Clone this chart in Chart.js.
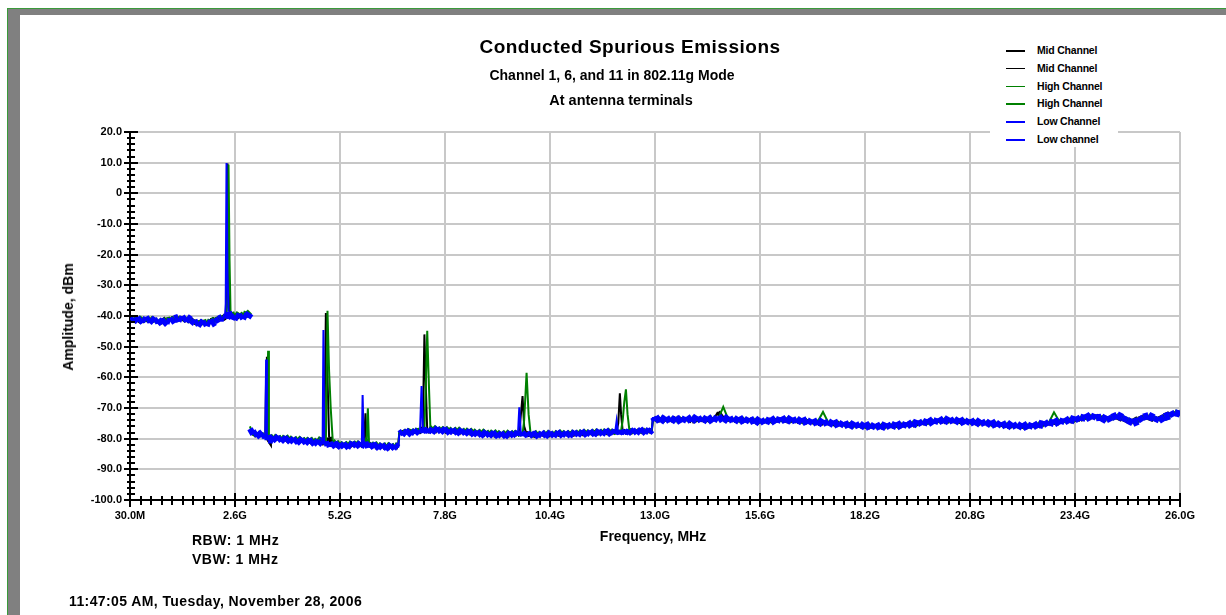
<!DOCTYPE html>
<html>
<head>
<meta charset="utf-8">
<title>Conducted Spurious Emissions</title>
<script src="https://cdn.jsdelivr.net/npm/chart.js@4"></script>
<style>
  body { margin: 0; background: #fff; }
  #wrap { position: relative; width: 1226px; height: 615px; overflow: hidden;
          font-family: "Liberation Sans", Arial, sans-serif; font-weight: bold; color: #000; }
  #c { position: absolute; left: 0; top: 0; z-index: 1; }
  .frame { position: absolute; }
  .txt { position: absolute; white-space: nowrap; z-index: 3; }
  .ctr { transform: translate(-50%, -50%); }
  #legend { position: absolute; left: 990px; top: 30px; width: 128px; height: 117px; background: #fff; z-index: 2; }
  .lg { position: absolute; left: 16px; width: 110px; height: 18px; font-size: 10.5px; letter-spacing: -0.2px; white-space: nowrap; }
  .lg i { position: absolute; left: 0; top: 8px; width: 19px; height: 1.5px; }
  .lg span { position: absolute; left: 31px; top: 2px; white-space: nowrap; }
</style>
</head>
<body>
<div id="wrap">
  <div class="frame" style="left:7px;top:8px;width:1219px;height:1px;background:#3a9a3a"></div>
  <div class="frame" style="left:7px;top:8px;width:1px;height:607px;background:#3a9a3a"></div>
  <div class="frame" style="left:8px;top:9px;width:1218px;height:6px;background:#808080"></div>
  <div class="frame" style="left:8px;top:9px;width:12px;height:606px;background:#808080"></div>

  <canvas id="c" width="1226" height="615"></canvas>

  <div class="txt ctr" style="left:630px;top:47px;font-size:19px;letter-spacing:0.5px">Conducted Spurious Emissions</div>
  <div class="txt ctr" style="left:612px;top:75px;font-size:14px">Channel 1, 6, and 11 in 802.11g Mode</div>
  <div class="txt ctr" style="left:621px;top:100px;font-size:14.5px">At antenna terminals</div>

  <div id="legend"></div>

  <div class="txt ctr" style="left:68px;top:317px;font-size:14px;transform:translate(-50%,-50%) rotate(-90deg)">Amplitude, dBm</div>
  <div class="txt ctr" style="left:653px;top:536px;font-size:14px">Frequency, MHz</div>
  <div class="txt" style="left:192px;top:532px;font-size:14px;letter-spacing:0.5px">RBW: 1 MHz</div>
  <div class="txt" style="left:192px;top:551px;font-size:14px;letter-spacing:0.5px">VBW: 1 MHz</div>
  <div class="txt" style="left:69px;top:593px;font-size:14px;letter-spacing:0.4px">11:47:05 AM, Tuesday, November 28, 2006</div>
</div>

<script>
// frequency in GHz, amplitude in dBm
// sweep 1: 30 MHz - 2.97 GHz
const freqA = [0.03,0.1,0.2,0.3,0.4,0.5,0.6,0.7,0.8,0.9,1.0,1.1,1.2,1.3,1.4,1.5,1.6,1.7,1.8,1.9,2.0,2.1,2.2,2.28,
  2.35,2.37,2.39,2.415,2.44,2.465,2.49,2.52,2.6,2.7,2.8,2.9,2.97];
const midA = [-41.2,-41.5,-41.0,-41.9,-41.1,-41.6,-41.0,-42.2,-41.8,-41.0,-41.5,-40.6,-41.2,-40.7,-41.6,-40.9,-42.0,-42.6,-41.8,-42.5,-41.7,-41.3,-40.6,-40.9,
  -40.3,-39.8,-35.0,9.7,-30.0,-39.2,-40.5,-40.0,-40.7,-39.6,-40.2,-39.7,-39.4];
const highA = [-41.0,-41.3,-40.6,-41.5,-41.2,-40.9,-41.4,-41.6,-42.0,-41.1,-40.8,-41.2,-40.4,-41.0,-40.8,-41.6,-41.8,-42.3,-42.0,-41.5,-42.2,-41.0,-40.8,-40.2,
  -40.6,-40.2,-39.5,-34.0,9.4,-22.0,-39.0,-39.6,-39.2,-40.1,-39.0,-39.5,-38.6];
const lowA = [-41.6,-40.7,-41.8,-40.9,-41.5,-40.8,-41.9,-41.2,-42.6,-41.4,-41.9,-41.0,-40.6,-41.3,-40.5,-41.4,-42.5,-41.9,-42.8,-42.1,-42.6,-41.8,-41.0,-40.4,
  -40.8,-36.0,9.9,-27.0,-38.5,-40.9,-40.1,-40.8,-39.9,-40.6,-39.8,-40.4,-39.0];

// sweep 2: 2.97 GHz - 26 GHz
const freqB = [
  2.97,3.05,3.15,3.25,3.33,3.35,3.37,3.39,3.42,3.44,3.47,3.55,3.65,3.75,3.85,3.95,4.05,4.15,4.25,4.35,4.45,4.55,4.65,4.73,
  4.77,4.79,4.81,4.85,4.89,4.93,4.97,5.02,5.1,5.2,5.3,5.4,5.5,5.6,5.7,
  5.74,5.76,5.79,5.83,5.86,5.89,5.92,5.97,6.05,6.15,6.25,6.35,6.45,6.55,6.64,6.67,6.75,6.85,6.95,7.05,7.14,
  7.18,7.22,7.25,7.29,7.33,7.36,7.4,7.44,7.5,7.6,7.7,7.8,7.9,8.0,8.1,8.2,8.3,8.4,8.5,8.6,8.7,8.8,8.9,9.0,9.1,9.2,9.3,9.4,9.5,9.58,
  9.61,9.64,9.68,9.72,9.76,9.82,9.87,9.92,10.0,10.1,10.2,10.3,10.4,10.5,10.6,10.7,10.8,10.9,11.0,11.1,11.2,11.3,11.4,11.5,11.6,11.7,11.8,11.9,11.98,
  12.02,12.05,12.09,12.13,12.16,12.2,12.24,12.28,12.32,12.37,12.45,12.55,12.65,12.75,12.85,12.92,12.95,
  13.0,13.13,13.26,13.39,13.52,13.65,13.78,13.91,14.04,14.17,
  14.3,14.43,14.56,14.69,14.82,14.95,15.08,15.21,15.34,15.47,
  15.6,15.73,15.86,15.99,16.12,16.25,16.38,16.51,16.64,16.77,
  16.9,17.03,17.16,17.29,17.42,17.55,17.68,17.81,17.94,18.07,
  18.2,18.33,18.46,18.59,18.72,18.85,18.98,19.11,19.24,19.37,
  19.5,19.63,19.76,19.89,20.02,20.15,20.28,20.41,20.54,20.67,
  20.8,20.93,21.06,21.19,21.32,21.45,21.58,21.71,21.84,21.97,
  22.1,22.23,22.36,22.49,22.62,22.75,22.88,23.01,23.14,23.27,
  23.4,23.53,23.66,23.79,23.92,24.05,24.18,24.31,24.44,24.57,
  24.7,24.83,24.96,25.09,25.22,25.35,25.48,25.61,25.74,25.87,
  26.0];
const midB = [
  -77.4,-78.1,-79.0,-78.3,-79.5,-78.9,-60.0,-53.3,-79.6,-80.0,-79.4,-80.2,-79.5,-80.5,-79.7,-80.8,-80.0,-81.0,-80.2,-81.3,-80.5,-81.4,-80.7,-81.5,
  -81.2,-80.6,-81.4,-39.0,-60.0,-79.5,-81.8,-82.3,-81.6,-82.6,-81.8,-82.5,-81.6,-82.4,-81.5,
  -82.4,-81.6,-82.5,-71.7,-82.0,-81.3,-82.4,-82.0,-82.6,-82.3,-82.8,-82.4,-83.0,-82.5,-82.7,-78.0,-78.1,-77.5,-78.2,-77.6,-77.8,
  -77.5,-77.0,-76.8,-46.0,-65.0,-77.5,-77.3,-77.4,-77.2,-77.3,-77.1,-77.5,-77.4,-77.7,-77.6,-77.9,-77.8,-78.1,-78.0,-78.4,-78.3,-78.6,-78.5,-78.7,-78.6,-78.8,-78.7,-78.7,-78.5,-78.5,
  -78.3,-78.0,-72.0,-66.1,-76.0,-78.6,-78.5,-78.8,-78.7,-78.9,-78.5,-78.7,-78.6,-78.7,-78.4,-78.5,-78.5,-78.6,-78.3,-78.4,-78.2,-78.3,-78.1,-78.2,-78.0,-78.1,-77.9,-78.0,-77.8,
  -78.0,-77.6,-75.0,-65.2,-72.0,-77.5,-77.9,-77.7,-77.8,-77.6,-77.7,-77.5,-77.6,-77.4,-77.5,-77.6,-73.6,
  -73.6,-74.0,-73.5,-74.1,-73.4,-74.0,-73.5,-74.2,-73.6,-74.0,
  -73.6,-74.0,-71.3,-73.8,-73.5,-74.1,-73.7,-74.2,-73.8,-74.4,
  -74.1,-74.5,-73.9,-74.3,-73.7,-74.1,-73.9,-74.4,-74.1,-74.6,
  -74.5,-74.9,-74.7,-75.1,-74.9,-75.3,-75.2,-75.6,-75.5,-75.9,
  -75.7,-76.1,-75.8,-76.2,-75.7,-76.0,-75.5,-75.8,-75.2,-75.5,
  -74.8,-75.0,-74.4,-74.6,-74.0,-74.3,-74.0,-74.4,-74.2,-74.6,
  -74.4,-74.8,-74.7,-75.1,-75.0,-75.4,-75.3,-75.8,-75.6,-76.0,
  -75.8,-76.1,-75.6,-75.8,-75.0,-75.2,-74.5,-74.7,-74.0,-74.2,
  -73.6,-73.8,-72.9,-73.1,-72.6,-73.4,-73.5,-73.0,-72.8,-73.6,
  -74.4,-74.5,-73.5,-72.8,-73.0,-73.7,-73.5,-72.7,-72.0,-71.9,
  -71.6];
const highB = [
  -76.0,-78.9,-78.2,-79.0,-78.5,-79.3,-79.0,-70.0,-51.3,-79.4,-79.8,-79.1,-80.0,-79.3,-80.3,-79.4,-80.6,-79.7,-80.8,-79.9,-81.0,-80.1,-81.2,-79.6,
  -81.0,-80.8,-81.6,-81.2,-38.3,-58.0,-70.0,-80.6,-82.0,-81.2,-82.2,-81.4,-82.0,-81.0,-82.2,
  -82.0,-81.5,-82.3,-81.4,-80.0,-70.1,-82.0,-81.4,-82.5,-81.6,-82.6,-81.8,-82.7,-81.9,-82.4,-77.6,-78.3,-77.3,-77.9,-77.1,-77.5,
  -77.2,-77.4,-77.0,-76.9,-60.0,-44.8,-62.0,-77.0,-76.2,-77.4,-76.4,-77.6,-76.5,-77.7,-76.7,-77.9,-76.9,-78.1,-77.1,-78.3,-77.3,-78.5,-77.5,-78.7,-77.6,-78.8,-77.7,-78.8,-77.6,-78.6,
  -78.4,-78.7,-78.2,-78.6,-74.0,-58.5,-72.0,-78.5,-78.9,-77.9,-78.8,-77.8,-78.9,-77.8,-78.7,-77.6,-78.8,-77.7,-78.6,-77.5,-78.5,-77.4,-78.4,-77.3,-78.3,-77.2,-78.2,-77.1,-78.0,
  -77.8,-78.1,-77.6,-78.0,-77.5,-74.0,-68.0,-63.9,-72.0,-77.8,-77.4,-77.8,-77.3,-77.7,-77.2,-77.4,-73.2,
  -73.9,-73.4,-74.0,-73.5,-74.1,-73.6,-73.9,-73.3,-73.8,-73.5,
  -74.0,-73.4,-73.7,-69.6,-73.9,-73.6,-74.1,-73.7,-74.2,-73.9,
  -74.6,-74.1,-74.3,-73.8,-73.9,-73.6,-74.1,-73.9,-74.4,-74.2,
  -74.7,-74.4,-71.3,-74.7,-75.2,-75.0,-75.5,-75.3,-75.8,-75.5,
  -76.0,-75.7,-76.1,-75.8,-76.0,-75.6,-75.8,-75.4,-75.6,-75.0,
  -75.1,-74.6,-74.7,-74.2,-74.3,-73.8,-74.2,-73.9,-74.5,-74.2,
  -74.7,-74.4,-75.0,-74.7,-75.3,-75.0,-75.6,-75.3,-75.9,-75.6,
  -76.1,-75.7,-75.9,-75.4,-75.3,-74.8,-71.4,-74.3,-74.3,-73.8,
  -73.8,-73.3,-73.1,-72.7,-72.9,-73.3,-73.7,-73.4,-72.6,-72.9,
  -73.7,-74.6,-73.9,-73.3,-72.8,-73.0,-73.8,-73.3,-72.7,-71.2,
  -71.9];
const lowB = [
  -76.8,-78.6,-77.9,-79.4,-78.7,-79.8,-54.2,-79.0,-80.3,-79.2,-80.4,-79.3,-80.6,-79.6,-80.9,-79.8,-81.2,-80.1,-81.4,-80.3,-81.6,-80.6,-81.9,-80.8,
  -80.5,-44.6,-81.6,-81.0,-82.3,-81.2,-82.6,-81.4,-82.8,-81.5,-82.9,-81.7,-82.5,-81.3,-82.7,
  -81.8,-65.8,-82.0,-81.0,-82.6,-81.5,-82.9,-81.6,-83.0,-81.9,-83.2,-82.0,-83.3,-82.1,-83.0,-78.4,-77.6,-78.7,-77.4,-78.3,-77.2,
  -77.9,-62.8,-76.5,-78.0,-77.0,-78.1,-76.8,-77.9,-76.6,-77.8,-76.7,-78.0,-77.0,-78.2,-77.1,-78.4,-77.3,-78.6,-77.6,-78.9,-77.8,-79.1,-78.0,-79.2,-78.1,-79.3,-78.2,-79.2,-78.0,-79.0,
  -77.6,-69.8,-78.9,-77.8,-79.0,-78.0,-79.2,-78.1,-79.3,-78.2,-79.1,-78.0,-79.2,-78.1,-79.0,-77.9,-79.1,-78.0,-78.9,-77.8,-78.8,-77.7,-78.7,-77.6,-78.6,-77.5,-78.5,-77.4,-78.3,
  -77.2,-74.2,-78.4,-77.3,-78.5,-77.4,-78.4,-77.3,-78.3,-77.2,-78.2,-77.1,-78.1,-77.0,-78.0,-77.1,-73.0,
  -74.2,-73.1,-74.3,-73.2,-74.4,-73.3,-74.2,-73.0,-74.1,-73.2,
  -74.3,-73.1,-74.0,-72.9,-74.2,-73.3,-74.4,-73.4,-74.5,-73.6,
  -74.9,-73.8,-74.6,-73.5,-74.2,-73.3,-74.4,-73.6,-74.7,-73.9,
  -75.0,-74.1,-75.2,-74.4,-75.5,-74.7,-75.8,-75.0,-76.1,-75.2,
  -76.3,-75.4,-76.4,-75.5,-76.3,-75.3,-76.1,-75.1,-75.9,-74.7,
  -75.4,-74.3,-75.0,-73.9,-74.6,-73.5,-74.5,-73.6,-74.8,-73.9,
  -75.0,-74.1,-75.3,-74.4,-75.6,-74.7,-75.9,-75.0,-76.2,-75.3,
  -76.4,-75.4,-76.2,-75.1,-75.6,-74.5,-75.1,-74.0,-74.6,-73.5,
  -74.1,-73.0,-73.4,-72.4,-73.2,-73.0,-74.0,-73.1,-72.3,-73.2,
  -74.0,-74.9,-74.2,-73.0,-72.5,-73.3,-74.1,-73.0,-72.4,-71.5,
  -72.0];

const series = [
  {label: 'Mid Channel', color: '#000000', freq: freqA, dbm: midA, order: 3, noise: 5},
  {label: 'Mid Channel', color: '#000000', freq: freqB, dbm: midB, order: 3, noise: 5},
  {label: 'High Channel', color: '#008000', freq: freqA, dbm: highA, order: 2, noise: 5},
  {label: 'High Channel', color: '#008000', freq: freqB, dbm: highB, order: 2, noise: 5},
  {label: 'Low Channel', color: '#0000ff', freq: freqA, dbm: lowA, order: 1, noise: 7},
  {label: 'Low channel', color: '#0000ff', freq: freqB, dbm: lowB, order: 1, noise: 7}
];

// legend
const legend = document.getElementById('legend');
series.forEach((s, i) => {
  const row = document.createElement('div');
  row.className = 'lg';
  row.style.top = (12 + i * 17.8) + 'px';
  row.innerHTML = '<i style="background:' + s.color + '"></i><span>' + s.label + '</span>';
  legend.appendChild(row);
});

const isMajorX = v => Math.abs(v / 2.6 - Math.round(v / 2.6)) < 1e-6;
const isMajorY = v => Math.abs(v / 10 - Math.round(v / 10)) < 1e-6;
const tickFont = {family: 'Liberation Sans', size: 11, weight: 'bold'};

// tick marks crossing the axis lines
const crossTicks = {
  id: 'crossTicks',
  afterDraw(chart) {
    const {ctx, chartArea} = chart;
    const x = chart.scales.x, y = chart.scales.y;
    ctx.save();
    ctx.strokeStyle = '#000';
    ctx.lineWidth = 2;
    ctx.beginPath();
    x.ticks.forEach(t => {
      const px = Math.round(x.getPixelForValue(t.value));
      const big = isMajorX(t.value);
      ctx.moveTo(px, chartArea.bottom - (big ? 7 : 4));
      ctx.lineTo(px, chartArea.bottom + (big ? 7 : 5));
    });
    y.ticks.forEach(t => {
      const py = Math.round(y.getPixelForValue(t.value));
      const big = isMajorY(t.value);
      ctx.moveTo(chartArea.left - (big ? 6 : 3), py);
      ctx.lineTo(chartArea.left + (big ? 8 : 5), py);
    });
    ctx.stroke();
    ctx.restore();
  }
};

new Chart(document.getElementById('c'), {
  type: 'line',
  data: {
    datasets: series.map(s => ({
      label: s.label,
      data: s.freq.map((f, i) => ({x: f, y: s.dbm[i]})),
      borderColor: s.color,
      backgroundColor: s.color,
      borderWidth: 2,
      borderJoinStyle: 'miter',
      pointRadius: 0,
      tension: 0,
      order: s.order,
      // the noise floor is drawn as a thick, slightly uneven band; spikes and steps stay thin
      segment: {
        borderWidth: c => Math.abs(c.p1.parsed.y - c.p0.parsed.y) > 2.5 ? 2 : s.noise + (c.p0DataIndex % 3) - 1
      }
    }))
  },
  options: {
    responsive: false,
    animation: false,
    layout: {padding: {top: 132, right: 46, bottom: 85, left: 70}},
    plugins: {legend: {display: false}, tooltip: {enabled: false}},
    scales: {
      x: {
        type: 'linear',
        min: 0,
        max: 26,
        afterFit: scale => { scale.height = 30; },
        border: {color: '#000', width: 2},
        grid: {
          drawTicks: false,
          lineWidth: 2,
          color: c => (c.tick && isMajorX(c.tick.value)) ? '#c8c8c8' : 'rgba(0,0,0,0)'
        },
        ticks: {
          stepSize: 0.26,
          autoSkip: false,
          maxRotation: 0,
          padding: 9,
          color: '#000',
          font: tickFont,
          callback: v => {
            if (!isMajorX(v)) return '';
            return v === 0 ? '30.0M' : v.toFixed(1) + 'G';
          }
        }
      },
      y: {
        min: -100,
        max: 20,
        afterFit: scale => { scale.width = 60; },
        border: {color: '#000', width: 2},
        grid: {
          drawTicks: false,
          lineWidth: 2,
          color: c => (c.tick && isMajorY(c.tick.value)) ? '#c8c8c8' : 'rgba(0,0,0,0)'
        },
        ticks: {
          stepSize: 2,
          autoSkip: false,
          padding: 8,
          color: '#000',
          font: tickFont,
          callback: v => {
            if (!isMajorY(v)) return '';
            return v === 0 ? '0' : v.toFixed(1);
          }
        }
      }
    }
  },
  plugins: [crossTicks]
});
</script>
</body>
</html>
